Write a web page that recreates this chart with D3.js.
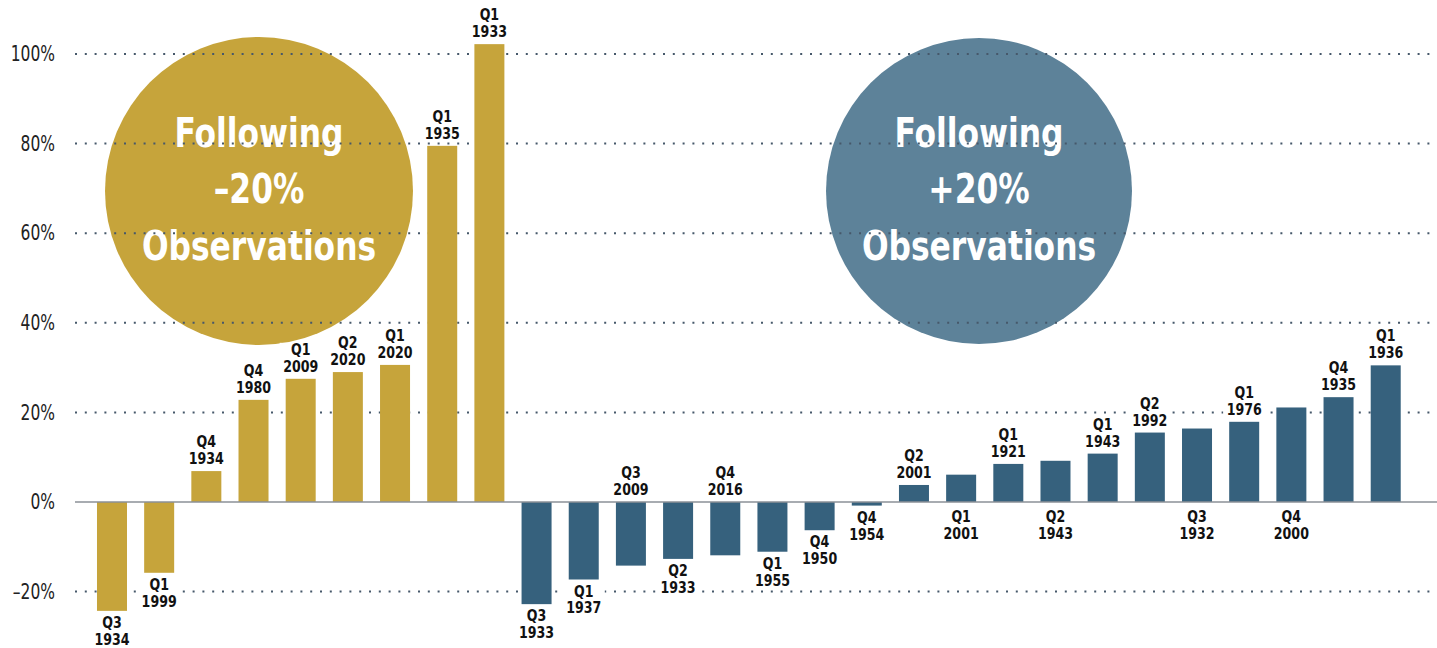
<!DOCTYPE html>
<html>
<head lang="en">
  <title>Following 20% observations</title>
  <script src="https://d3js.org/d3.v7.min.js" charset="utf-8"></script>
  <style>
    body { margin: 0; background: #fff; }
    svg text { font-family: "DejaVu Sans Condensed", "DejaVu Sans", sans-serif; }
  </style>
</head>
<body>
  <script>
    var width = 1437;
    var height = 648;

    // one entry per bar, left to right
    var quarters = ["Q3", "Q1", "Q4", "Q4", "Q1", "Q2", "Q1", "Q1", "Q1",
                    "Q3", "Q1", "Q3", "Q2", "Q4", "Q1", "Q4", "Q4", "Q2", "Q1",
                    "Q1", "Q2", "Q1", "Q2", "Q3", "Q1", "Q4", "Q4", "Q1"];
    var years = ["1934", "1999", "1934", "1980", "2009", "2020", "2020", "1935", "1933",
                 "1933", "1937", "2009", "1933", "2016", "1955", "1950", "1954", "2001", "2001",
                 "1921", "1943", "1943", "1992", "1932", "1976", "2000", "1935", "1936"];
    var returns = [-24.3, -15.8, 6.9, 22.8, 27.5, 29.0, 30.6, 79.5, 102.2,
                   -22.8, -17.3, -14.2, -12.7, -11.9, -11.1, -6.3, -0.8, 3.8, 6.1,
                   8.5, 9.2, 10.8, 15.5, 16.4, 17.9, 21.1, 23.4, 30.5];
    // "end" = label past the bar tip, "opp" = label on the other side of zero
    var labelSide = ["end", "end", "end", "end", "end", "end", "end", "end", "end",
                     "end", "end", "opp", "end", "opp", "end", "end", "end", "end", "opp",
                     "end", "opp", "end", "end", "opp", "end", "opp", "end", "end"];
    var groups = ["down", "down", "down", "down", "down", "down", "down", "down", "down",
                  "up", "up", "up", "up", "up", "up", "up", "up", "up", "up",
                  "up", "up", "up", "up", "up", "up", "up", "up", "up"];

    var yTicks = [-20, 0, 20, 40, 60, 80, 100];
    var downText = ["Following", "–20%", "Observations"];
    var upText = ["Following", "+20%", "Observations"];

    var colors = { down: "#c6a43b", up: "#36617d" };
    var bubbleColors = { down: "#c6a43b", up: "#5d8299" };

    // no narrow font installed, so squeeze the condensed one a bit
    var squeeze = 0.85;

    var svg = d3.select("body")
      .append("svg")
      .attr("width", width)
      .attr("height", height);

    var x = d3.scaleBand()
      .domain(d3.range(returns.length))
      .range([88.4, 1409.3])
      .paddingInner(0.364)
      .paddingOuter(0.182);

    var y = d3.scaleLinear()
      .domain([-20, 100])
      .range([591.6, 54]);

    var gridLeft = 75, gridRight = 1437;

    // bubbles sit under the grid
    var bubbles = [
      { cx: 259, cy: 191, r: 154, lines: downText, key: "down" },
      { cx: 979, cy: 191, r: 153, lines: upText, key: "up" }
    ];
    bubbles.forEach(function(b) {
      svg.append("circle")
        .attr("cx", b.cx)
        .attr("cy", b.cy)
        .attr("r", b.r)
        .style("fill", bubbleColors[b.key]);
      svg.append("text")
        .attr("transform", "translate(" + b.cx + "," + (b.cy - 44) + ") scale(" + squeeze + ",1)")
        .attr("text-anchor", "middle")
        .style("fill", "#fff")
        .style("font-size", "41px")
        .style("font-weight", "bold")
        .selectAll("tspan")
        .data(b.lines)
        .enter().append("tspan")
          .attr("x", 0)
          .attr("y", function(d, i) { return i * 56.5; })
          .text(function(d) { return d; });
    });

    // dotted grid
    svg.append("g")
      .selectAll("line")
      .data(yTicks.filter(function(d) { return d !== 0; }))
      .enter().append("line")
        .attr("x1", gridLeft)
        .attr("x2", gridRight)
        .attr("y1", function(d) { return y(d); })
        .attr("y2", function(d) { return y(d); })
        .style("stroke", "#46586a")
        .style("stroke-width", 2)
        .style("stroke-dasharray", "2 7.8");

    // y axis labels
    var yAxis = d3.axisLeft(y)
      .tickValues(yTicks)
      .tickSize(0)
      .tickPadding(0)
      .tickFormat(function(d) { return (d < 0 ? "–" + (-d) : d) + "%"; });

    var ya = svg.append("g")
      .attr("transform", "translate(55,0)")
      .call(yAxis);
    ya.select(".domain").remove();
    ya.selectAll("text")
      .attr("transform", "scale(0.82,1)")
      .style("font-family", "'DejaVu Sans Condensed', sans-serif")
      .style("font-size", "21px")
      .style("fill", "#222");

    // bars
    svg.append("g")
      .selectAll("rect")
      .data(returns)
      .enter().append("rect")
        .attr("x", function(d, i) { return x(i); })
        .attr("width", x.bandwidth())
        .attr("y", function(d) { return y(Math.max(0, d)); })
        .attr("height", function(d) { return Math.abs(y(d) - y(0)); })
        .style("fill", function(d, i) { return colors[groups[i]]; });

    // bar labels (white box knocks out the grid behind them)
    var zero = y(0);
    var labels = svg.append("g")
      .selectAll("g")
      .data(returns)
      .enter().append("g")
        .attr("transform", function(d, i) {
          var cx = x(i) + x.bandwidth() / 2;
          var base;
          var above = (labelSide[i] === "end") === (d >= 0);
          if (labelSide[i] === "end") {
            base = above ? y(d) - 7 - 17 : y(d) + 17;
          } else {
            base = above ? zero - 7 - 17 : zero + 20;
          }
          return "translate(" + cx + "," + base + ")";
        });

    labels.append("rect")
      .attr("x", -21)
      .attr("y", -12)
      .attr("width", 42)
      .attr("height", 31)
      .style("fill", "#fff");

    var lt = labels.append("text")
      .attr("transform", "scale(" + squeeze + ",1)")
      .attr("text-anchor", "middle")
      .style("font-size", "16.5px")
      .style("font-weight", "bold")
      .style("fill", "#111");
    lt.append("tspan")
      .attr("x", 0)
      .attr("y", 0)
      .text(function(d, i) { return quarters[i]; });
    lt.append("tspan")
      .attr("x", 0)
      .attr("y", 17)
      .text(function(d, i) { return years[i]; });

    // zero line
    svg.append("line")
      .attr("x1", gridLeft)
      .attr("x2", gridRight)
      .attr("y1", zero)
      .attr("y2", zero)
      .style("stroke", "#8b9197")
      .style("stroke-width", 1.6);
  </script>
</body>
</html>
